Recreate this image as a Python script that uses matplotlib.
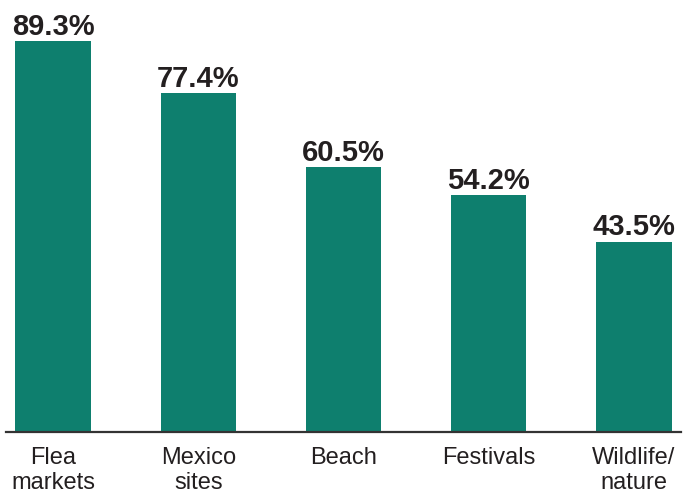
import matplotlib.pyplot as plt
import numpy as np

categories = ["Flea\nmarkets", "Mexico\nsites", "Beach", "Festivals", "Wildlife/\nnature"]
values = [89.3, 77.4, 60.5, 54.2, 43.5]
labels = ["89.3%", "77.4%", "60.5%", "54.2%", "43.5%"]

plt.rcParams['font.family'] = ['Liberation Sans', 'DejaVu Sans']

fig = plt.figure(figsize=(6.87, 4.97), dpi=100)
ax = fig.add_axes([6/687, 65/497, 675/687, 432/497])

x = np.arange(len(categories))
bars = ax.bar(x, values, width=0.52, color="#0E7F6E", zorder=1)

for xi, v, lab in zip(x, values, labels):
    ax.annotate(lab, (xi, v), xytext=(0, 4.5), textcoords="offset points",
                ha="center", va="baseline", fontsize=21, fontweight="bold",
                color="#231F20")

ax.set_xlim(-0.324, 4.324)
ax.set_ylim(0, 98.7)
ax.set_xticks(x)
ax.set_xticklabels(categories, fontsize=17, color="#231F20", linespacing=1.15)
ax.tick_params(axis="x", length=0, pad=11)
ax.set_yticks([])
for s in ["top", "right", "left"]:
    ax.spines[s].set_visible(False)
ax.spines["bottom"].set_color("#333333")
ax.spines["bottom"].set_linewidth(1.6)
ax.spines["bottom"].set_zorder(3)

fig.savefig("out.png", dpi=100)
